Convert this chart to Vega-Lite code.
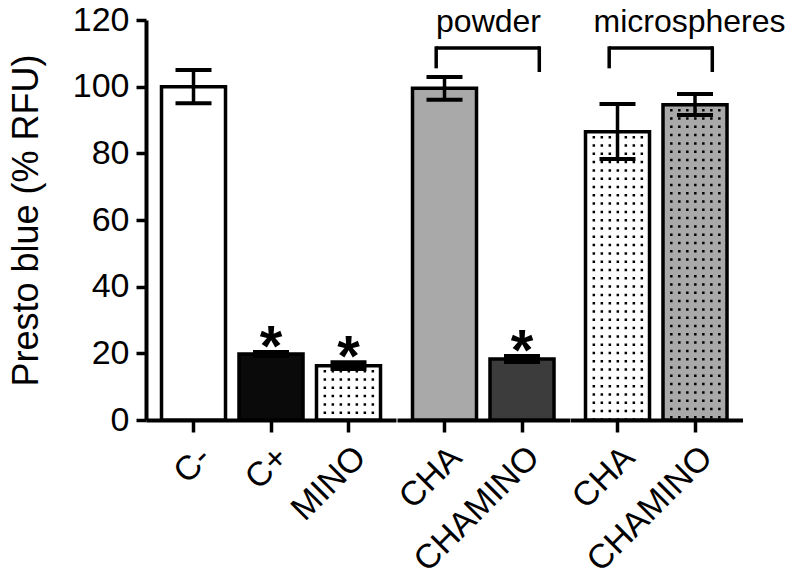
{
  "$schema": "https://vega.github.io/schema/vega-lite/v6.json",
  "background": "white",
  "padding": {"left": 8, "top": 3, "right": 5, "bottom": 5},
  "config": {
    "font": "Liberation Sans",
    "view": {"stroke": null},
    "axis": {"domainColor": "black", "domainWidth": 4, "tickColor": "black", "tickWidth": 3.5, "labelColor": "black", "labelFontSize": 34, "labelFont": "Liberation Sans", "titleColor": "black", "titleFontSize": 36, "titleFont": "Liberation Sans", "titleFontWeight": "normal", "grid": false},
    "axisY": {"tickSize": 10, "labelPadding": 7, "titlePadding": 27},
    "axisX": {"tickSize": 12, "labelAngle": -45, "labelPadding": 8, "labelLimit": 0, "labelOverlap": false}
  },
  "data": {"values": [
    {"group": "control", "id": "C-", "label": "C-", "mean": 100, "lo": 95, "hi": 105},
    {"group": "control", "id": "C+", "label": "C+", "mean": 19.8, "lo": 19.2, "hi": 20.4},
    {"group": "control", "id": "MINO", "label": "MINO", "mean": 16.3, "lo": 15.3, "hi": 17.3},
    {"group": "powder", "id": "CHA-p", "label": "CHA", "mean": 99.5, "lo": 96.1, "hi": 102.9},
    {"group": "powder", "id": "CHAMINO-p", "label": "CHAMINO", "mean": 18.3, "lo": 17.4, "hi": 19.2},
    {"group": "microspheres", "id": "CHA-m", "label": "CHA", "mean": 86.5, "lo": 78.3, "hi": 94.8},
    {"group": "microspheres", "id": "CHAMINO-m", "label": "CHAMINO", "mean": 94.6, "lo": 91.5, "hi": 97.8}
  ]},
  "facet": {"column": {"field": "group", "type": "nominal", "sort": ["control", "powder", "microspheres"], "header": null}},
  "spacing": 0,
  "bounds": "flush",
  "resolve": {"scale": {"x": "independent"}},
  "spec": {
    "width": {"step": 77.5},
    "height": 400,
    "layer": [
      {
        "mark": {"type": "bar", "stroke": "black", "strokeWidth": 3.5},
        "encoding": {
          "x": {"field": "label", "type": "nominal", "sort": null, "title": null, "scale": {"paddingInner": 0.174, "paddingOuter": 0.2}},
          "y": {"field": "mean", "type": "quantitative", "title": "Presto blue (% RFU)", "scale": {"domain": [0, 120], "nice": false}, "axis": {"values": [0, 20, 40, 60, 80, 100, 120]}},
          "color": {"field": "id", "type": "nominal", "legend": null, "scale": {"domain": ["C-", "C+", "MINO", "CHA-p", "CHAMINO-p", "CHA-m", "CHAMINO-m"], "range": ["#ffffff", "#0a0a0a", "#ffffff", "#a9a9a9", "#3c3c3c", "#ffffff", "#a9a9a9"]}}
        }
      },
      {
        "transform": [{"filter": {"field": "id", "oneOf": ["MINO", "CHA-m", "CHAMINO-m"]}}],
        "mark": {"type": "rule", "color": "black", "strokeWidth": 2.5, "strokeDash": [2.5, 5.8], "strokeDashOffset": 4},
        "encoding": {"x": {"field": "label", "type": "nominal", "sort": null, "title": null, "bandPosition": 0.13}, "y": {"field": "mean", "type": "quantitative", "title": "Presto blue (% RFU)"}, "y2": {"datum": 0}}
      },
      {
        "transform": [{"filter": {"field": "id", "oneOf": ["MINO", "CHA-m", "CHAMINO-m"]}}],
        "mark": {"type": "rule", "color": "black", "strokeWidth": 2.5, "strokeDash": [2.5, 5.8], "strokeDashOffset": 4},
        "encoding": {"x": {"field": "label", "type": "nominal", "sort": null, "title": null, "bandPosition": 0.255}, "y": {"field": "mean", "type": "quantitative", "title": "Presto blue (% RFU)"}, "y2": {"datum": 0}}
      },
      {
        "transform": [{"filter": {"field": "id", "oneOf": ["MINO", "CHA-m", "CHAMINO-m"]}}],
        "mark": {"type": "rule", "color": "black", "strokeWidth": 2.5, "strokeDash": [2.5, 5.8], "strokeDashOffset": 4},
        "encoding": {"x": {"field": "label", "type": "nominal", "sort": null, "title": null, "bandPosition": 0.38}, "y": {"field": "mean", "type": "quantitative", "title": "Presto blue (% RFU)"}, "y2": {"datum": 0}}
      },
      {
        "transform": [{"filter": {"field": "id", "oneOf": ["MINO", "CHA-m", "CHAMINO-m"]}}],
        "mark": {"type": "rule", "color": "black", "strokeWidth": 2.5, "strokeDash": [2.5, 5.8], "strokeDashOffset": 4},
        "encoding": {"x": {"field": "label", "type": "nominal", "sort": null, "title": null, "bandPosition": 0.505}, "y": {"field": "mean", "type": "quantitative", "title": "Presto blue (% RFU)"}, "y2": {"datum": 0}}
      },
      {
        "transform": [{"filter": {"field": "id", "oneOf": ["MINO", "CHA-m", "CHAMINO-m"]}}],
        "mark": {"type": "rule", "color": "black", "strokeWidth": 2.5, "strokeDash": [2.5, 5.8], "strokeDashOffset": 4},
        "encoding": {"x": {"field": "label", "type": "nominal", "sort": null, "title": null, "bandPosition": 0.63}, "y": {"field": "mean", "type": "quantitative", "title": "Presto blue (% RFU)"}, "y2": {"datum": 0}}
      },
      {
        "transform": [{"filter": {"field": "id", "oneOf": ["MINO", "CHA-m", "CHAMINO-m"]}}],
        "mark": {"type": "rule", "color": "black", "strokeWidth": 2.5, "strokeDash": [2.5, 5.8], "strokeDashOffset": 4},
        "encoding": {"x": {"field": "label", "type": "nominal", "sort": null, "title": null, "bandPosition": 0.755}, "y": {"field": "mean", "type": "quantitative", "title": "Presto blue (% RFU)"}, "y2": {"datum": 0}}
      },
      {
        "transform": [{"filter": {"field": "id", "oneOf": ["MINO", "CHA-m", "CHAMINO-m"]}}],
        "mark": {"type": "rule", "color": "black", "strokeWidth": 2.5, "strokeDash": [2.5, 5.8], "strokeDashOffset": 4},
        "encoding": {"x": {"field": "label", "type": "nominal", "sort": null, "title": null, "bandPosition": 0.88}, "y": {"field": "mean", "type": "quantitative", "title": "Presto blue (% RFU)"}, "y2": {"datum": 0}}
      },
      {
        "mark": {"type": "rule", "color": "black", "strokeWidth": 3.5},
        "encoding": {"x": {"field": "label", "type": "nominal", "sort": null, "title": null}, "y": {"field": "lo", "type": "quantitative", "title": "Presto blue (% RFU)"}, "y2": {"field": "hi"}}
      },
      {
        "mark": {"type": "tick", "color": "black", "size": 36, "thickness": 4, "opacity": 1},
        "encoding": {"x": {"field": "label", "type": "nominal", "sort": null, "title": null}, "y": {"field": "hi", "type": "quantitative", "title": "Presto blue (% RFU)"}}
      },
      {
        "mark": {"type": "tick", "color": "black", "size": 36, "thickness": 4, "opacity": 1},
        "encoding": {"x": {"field": "label", "type": "nominal", "sort": null, "title": null}, "y": {"field": "lo", "type": "quantitative", "title": "Presto blue (% RFU)"}}
      },
      {
        "transform": [{"filter": {"field": "id", "oneOf": ["C+", "MINO", "CHAMINO-p"]}}],
        "mark": {"type": "text", "text": "*", "fontSize": 58, "fontWeight": "bold", "color": "black", "baseline": "alphabetic", "align": "center", "dy": 14},
        "encoding": {"x": {"field": "label", "type": "nominal", "sort": null, "title": null}, "y": {"field": "hi", "type": "quantitative", "title": "Presto blue (% RFU)"}}
      },
      {
        "transform": [{"filter": {"field": "id", "oneOf": ["CHA-p", "CHA-m"]}}],
        "mark": {"type": "tick", "color": "black", "size": 104, "thickness": 3.5, "opacity": 1, "orient": "horizontal", "xOffset": 43.5},
        "encoding": {"x": {"field": "label", "type": "nominal", "sort": null, "title": null}, "y": {"datum": 111.6}}
      },
      {
        "transform": [{"filter": {"field": "id", "oneOf": ["CHA-p", "CHA-m"]}}],
        "mark": {"type": "rule", "color": "black", "strokeWidth": 3.5},
        "encoding": {"x": {"field": "label", "type": "nominal", "sort": null, "title": null, "bandPosition": 0.37}, "y": {"datum": 105.5}, "y2": {"datum": 112.1}}
      },
      {
        "transform": [{"filter": {"field": "id", "oneOf": ["CHAMINO-p", "CHAMINO-m"]}}],
        "mark": {"type": "rule", "color": "black", "strokeWidth": 3.5},
        "encoding": {"x": {"field": "label", "type": "nominal", "sort": null, "title": null, "bandPosition": 0.77}, "y": {"datum": 104.4}, "y2": {"datum": 112.1}}
      },
      {
        "transform": [{"filter": {"field": "id", "equal": "CHA-p"}}],
        "mark": {"type": "text", "text": "powder", "fontSize": 32, "color": "black", "align": "center", "baseline": "alphabetic", "dx": 44},
        "encoding": {"x": {"field": "label", "type": "nominal", "sort": null, "title": null}, "y": {"datum": 116.4}}
      },
      {
        "transform": [{"filter": {"field": "id", "equal": "CHA-m"}}],
        "mark": {"type": "text", "text": "microspheres", "fontSize": 32, "color": "black", "align": "center", "baseline": "alphabetic", "dx": 72},
        "encoding": {"x": {"field": "label", "type": "nominal", "sort": null, "title": null}, "y": {"datum": 116.4}}
      }
    ]
  }
}
